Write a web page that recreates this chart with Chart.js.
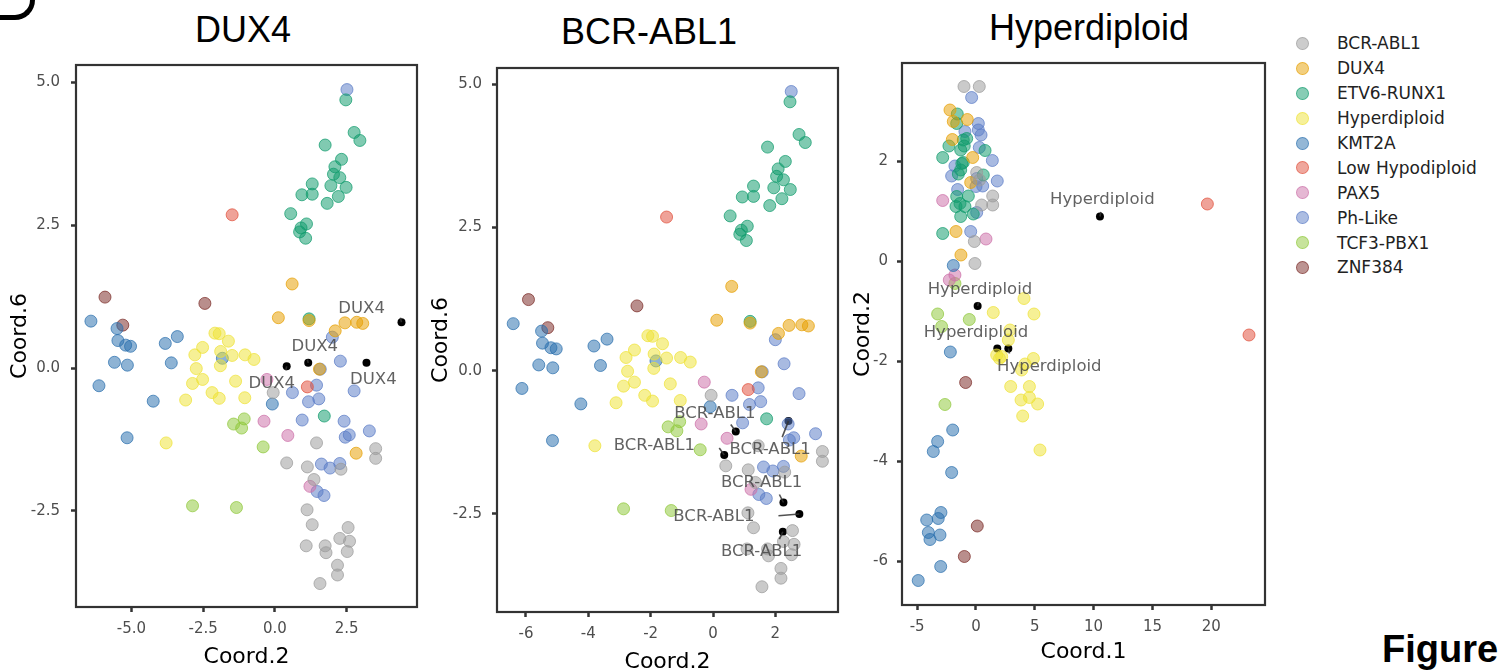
<!DOCTYPE html>
<html>
<head>
<meta charset="utf-8">
<script src="https://cdn.jsdelivr.net/npm/chart.js@4.4.1/dist/chart.umd.min.js"></script>
<style>
  body { margin:0; width:1499px; height:670px; overflow:hidden; background:#fff; position:relative; font-family:'DejaVu Sans', sans-serif; }
  canvas { position:absolute; top:0; }
  .title { position:absolute; font-family:'Liberation Sans', sans-serif; font-size:36px; line-height:36px; color:#000; text-align:center; width:300px; }
  #legend { position:absolute; left:1290px; top:31px; }
  .row { height:24.9px; display:flex; align-items:center; font-size:17px; color:#222; white-space:nowrap; }
  .dot { width:13px; height:13px; border-radius:50%; margin-left:6px; margin-right:28px; box-sizing:border-box; }
  #corner { position:absolute; left:-20px; top:-30px; width:50px; height:45px; border-right:5px solid #000; border-bottom:5px solid #000; border-bottom-right-radius:20px; }
  #fig { position:absolute; left:1382px; top:630px; font-family:'Liberation Sans', sans-serif; font-weight:bold; font-size:38px; line-height:38px; color:#000; white-space:nowrap; }
</style>
</head>
<body>
<div id="corner"></div>
<div class="title" style="left:93px; top:12px;">DUX4</div>
<div class="title" style="left:499px; top:14px;">BCR-ABL1</div>
<div class="title" style="left:939px; top:10px;">Hyperdiploid</div>
<canvas id="p1" width="430" height="690" style="left:0px"></canvas>
<canvas id="p2" width="435" height="690" style="left:425px"></canvas>
<canvas id="p3" width="430" height="690" style="left:850px"></canvas>
<div id="legend"></div>
<div id="fig">Figure</div>
<script>
// groups, in legend order
const groups = ['BCR-ABL1', 'DUX4', 'ETV6-RUNX1', 'Hyperdiploid', 'KMT2A', 'Low Hypodiploid', 'PAX5', 'Ph-Like', 'TCF3-PBX1', 'ZNF384'];
const groupColors = ['#9a9a9a', '#e69f00', '#0f9b6c', '#eee236', '#2a6fad', '#e0503c', '#cc6fa8', '#5a7cc6', '#8fc83a', '#7a2a26'];

// Coord.2 (x) / Coord.6 (y) - used by the DUX4 and BCR-ABL1 panels
const c26Bcr = [[-0.06,-0.43],[1.45,-1.31],[3.51,-1.41],[3.51,-1.58],[0.41,-1.66],[1.13,-1.73],[2.30,-1.77],[1.36,-1.95],[1.12,-2.48],[1.30,-2.74],[2.55,-2.79],[2.26,-2.98],[2.60,-3.03],[1.09,-3.11],[1.75,-3.11],[1.78,-3.23],[2.52,-3.21],[2.18,-3.45],[2.18,-3.62],[1.57,-3.77]];
const c26Dux4 = [[0.60,1.47],[0.12,0.88],[1.19,0.83],[2.44,0.79],[2.85,0.80],[3.06,0.78],[2.10,0.65],[1.55,-0.02],[2.83,-1.49]];
const c26Etv6 = [[2.47,4.69],[2.76,4.12],[2.96,3.98],[1.75,3.90],[2.32,3.65],[2.09,3.52],[2.04,3.39],[2.26,3.33],[1.30,3.22],[1.95,3.19],[2.48,3.16],[0.94,3.03],[1.30,3.04],[2.21,3.00],[1.82,2.88],[0.55,2.70],[1.10,2.52],[0.91,2.45],[0.86,2.38],[1.07,2.27],[1.19,0.86],[1.72,-0.84]];
const c26Hyper = [[-2.09,0.61],[-1.94,0.60],[-1.62,0.47],[-2.52,0.36],[-2.79,0.23],[-1.89,0.29],[-1.49,0.22],[-1.04,0.23],[-0.73,0.15],[-2.74,-0.01],[-1.90,0.04],[-2.52,-0.20],[-2.87,-0.27],[-1.37,-0.23],[-2.19,-0.43],[-1.94,-0.53],[-3.11,-0.56],[-1.05,-0.52],[-3.79,-1.31]];
const c26Kmt2a = [[-6.41,0.82],[-5.50,0.69],[-5.47,0.48],[-5.20,0.40],[-5.03,0.38],[-3.82,0.43],[-3.40,0.55],[-5.59,0.10],[-5.14,0.05],[-3.61,0.09],[-6.13,-0.31],[-4.24,-0.58],[-5.15,-1.22],[-1.83,0.17],[-0.09,-0.63]];
const c26LowHypo = [[-1.49,2.68],[1.13,-0.33]];
const c26Pax5 = [[-0.28,-0.20],[-0.38,-0.93],[0.45,-1.18],[1.22,-2.07]];
const c26PhLike = [[2.51,4.87],[2.00,0.54],[1.58,-0.02],[2.28,0.12],[1.45,-0.30],[0.61,-0.43],[2.76,-0.40],[1.17,-0.59],[1.53,-0.54],[0.95,-0.91],[2.41,-0.93],[3.29,-1.10],[2.59,-1.17],[2.45,-1.21],[1.62,-1.68],[1.92,-1.75],[2.26,-1.67],[1.47,-2.16],[1.71,-2.23]];
const c26Tcf3 = [[-1.44,-0.98],[-1.07,-0.89],[-1.16,-1.05],[-0.41,-1.38],[-2.87,-2.41],[-1.34,-2.44]];
const c26Znf384 = [[-5.92,1.24],[-2.44,1.13],[-5.30,0.75]];
const coord26 = [c26Bcr, c26Dux4, c26Etv6, c26Hyper, c26Kmt2a, c26LowHypo, c26Pax5, c26PhLike, c26Tcf3, c26Znf384];

// Coord.1 (x) / Coord.2 (y) - Hyperdiploid panel
const c12Bcr = [[-1.02,3.49],[0.28,3.49],[0.06,1.77],[1.42,1.30],[0.48,1.12],[1.42,1.12],[-0.14,0.39],[-0.09,-0.05],[0.30,1.62]];
const c12Dux4 = [[-2.21,3.02],[-0.74,2.83],[-1.93,2.79],[-2.01,2.43],[-0.28,2.07],[-0.45,1.57],[-1.70,0.59],[-1.28,0.12]];
const c12Etv6 = [[-1.59,2.94],[-1.64,2.75],[-0.79,2.45],[-1.08,2.42],[-2.30,2.30],[-1.30,2.22],[0.77,2.21],[-2.83,2.07],[-1.08,1.97],[-1.30,1.82],[-1.50,1.74],[0.62,1.72],[-1.64,1.29],[-0.65,1.30],[-1.36,1.15],[-0.94,1.09],[-1.70,1.09],[-0.23,0.94],[-1.30,0.89],[-2.83,0.55],[-1.20,1.95],[-1.00,2.30]];
const c12Hyper = [[4.08,-0.75],[1.47,-1.03],[4.93,-1.06],[2.89,-1.38],[2.75,-1.58],[1.76,-1.88],[2.18,-1.91],[2.00,-1.95],[4.88,-1.95],[4.17,-2.06],[3.88,-2.18],[2.95,-2.51],[4.54,-2.51],[3.83,-2.78],[4.54,-2.73],[5.24,-2.86],[3.97,-3.10],[5.44,-3.78]];
const c12Kmt2a = [[-1.93,-0.09],[-2.18,-1.82],[-1.98,-3.38],[-3.26,-3.61],[-3.63,-3.81],[-2.07,-4.23],[-2.98,-5.03],[-3.21,-5.15],[-4.19,-5.18],[-4.05,-5.43],[-3.06,-5.48],[-3.91,-5.57],[-3.00,-6.11],[-4.91,-6.39]];
const c12LowHypo = [[19.67,1.14],[23.21,-1.48]];
const c12Pax5 = [[-2.83,1.21],[0.85,0.44],[-1.79,-0.28],[-2.27,-0.38]];
const c12PhLike = [[-0.37,3.27],[0.20,2.75],[0.20,2.62],[-0.94,2.59],[0.43,2.52],[0.28,2.27],[1.39,2.01],[-1.79,1.90],[-2.07,1.70],[0.06,1.65],[1.81,1.60],[0.57,1.50],[0.00,1.49],[-1.56,1.43],[0.06,0.97],[-0.45,0.59]];
const c12Tcf3 = [[-1.79,-0.45],[-3.26,-1.06],[-0.57,-1.17],[-2.92,-1.31],[-2.64,-2.87]];
const c12Znf384 = [[-0.88,-2.43],[0.11,-5.30],[-0.99,-5.91]];
const coord12 = [c12Bcr, c12Dux4, c12Etv6, c12Hyper, c12Kmt2a, c12LowHypo, c12Pax5, c12PhLike, c12Tcf3, c12Znf384];

// highlighted samples (black), their label centres and leader ends
const dux4Marks = [[4.41,0.80],[1.16,0.09],[0.41,0.03],[3.19,0.09]];
const dux4Text  = [[3.02,1.04],[1.39,0.37],[-0.11,-0.27],[3.43,-0.21]];
const dux4Lead  = [[4.37,0.88],[1.13,0.15],[0.38,-0.04],[3.19,0.09]];

const bcrMarks = [[2.42,-0.88],[0.73,-1.06],[0.36,-1.47],[2.26,-2.30],[2.77,-2.50],[2.24,-2.81]];
const bcrText  = [[1.83,-1.38],[0.06,-0.75],[-1.88,-1.31],[1.56,-1.96],[0.03,-2.54],[1.56,-3.15]];
const bcrLead  = [[2.22,-1.16],[0.57,-0.94],[0.20,-1.35],[2.13,-2.16],[2.10,-2.53],[2.13,-2.94]];

const hyperMarks = [[10.54,0.89],[0.14,-0.90],[1.81,-1.75],[2.75,-1.75]];
const hyperText  = [[10.74,1.22],[0.34,-0.58],[0.00,-1.43],[6.23,-2.11]];
const hyperLead  = [[10.62,0.98],[0.22,-0.82],[1.81,-1.75],[2.85,-1.85]];

// ticks
const p1XTicks = [-5, -2.5, 0, 2.5];
const p1XLabels = ['-5.0', '-2.5', '0.0', '2.5'];
const p12YTicks = [-2.5, 0, 2.5, 5];
const p12YLabels = ['-2.5', '0.0', '2.5', '5.0'];
const p2XTicks = [-6, -4, -2, 0, 2];
const p3XTicks = [-5, 0, 5, 10, 15, 20];
const p3YTicks = [-6, -4, -2, 0, 2];

function rgba(hex, a) {
  const n = parseInt(hex.slice(1), 16);
  return `rgba(${(n >> 16) & 255}, ${(n >> 8) & 255}, ${n & 255}, ${a})`;
}

function buildDatasets(sets, marks) {
  const ds = sets.map((pts, i) => ({
    label: groups[i],
    data: pts.map(p => ({ x: p[0], y: p[1] })),
    backgroundColor: rgba(groupColors[i], 0.53),
    borderColor: rgba(groupColors[i], 0.72),
    borderWidth: 1,
    pointRadius: 6
  }));
  ds.push({
    label: 'sample',
    data: marks.map(p => ({ x: p[0], y: p[1] })),
    backgroundColor: '#000',
    borderColor: '#000',
    borderWidth: 0,
    pointRadius: 4
  });
  return ds;
}

const framePlugin = {
  id: 'frame',
  afterDraw(chart) {
    const { ctx, chartArea: a } = chart;
    ctx.save();
    ctx.strokeStyle = '#333';
    ctx.lineWidth = 2.2;
    ctx.strokeRect(a.left, a.top, a.right - a.left, a.bottom - a.top);
    ctx.restore();
  }
};

const labelPlugin = {
  id: 'sampleLabels',
  afterDatasetsDraw(chart, args, opts) {
    const { ctx } = chart;
    const x = chart.scales.x, y = chart.scales.y;
    ctx.save();
    ctx.font = '16.5px "DejaVu Sans"';
    ctx.textAlign = 'center';
    ctx.textBaseline = 'middle';
    opts.marks.forEach((m, i) => {
      const px = x.getPixelForValue(m[0]), py = y.getPixelForValue(m[1]);
      const l = opts.lead[i];
      ctx.strokeStyle = 'rgba(50,50,50,0.85)';
      ctx.lineWidth = 1.6;
      ctx.beginPath();
      ctx.moveTo(px, py);
      ctx.lineTo(x.getPixelForValue(l[0]), y.getPixelForValue(l[1]));
      ctx.stroke();
      const t = opts.text[i];
      ctx.fillStyle = 'rgba(70,70,70,0.85)';
      ctx.fillText(opts.label, x.getPixelForValue(t[0]), y.getPixelForValue(t[1]));
    });
    ctx.restore();
  }
};

function axis(cfg) {
  return {
    type: 'linear',
    min: cfg.min,
    max: cfg.max,
    afterBuildTicks: s => { s.ticks = cfg.ticks.map(v => ({ value: v })); },
    afterFit: s => { if (cfg.width) s.width = cfg.width; if (cfg.height) s.height = cfg.height; },
    ticks: {
      autoSkip: false,
      maxRotation: 0,
      padding: cfg.tickPad,
      color: '#4d4d4d',
      font: { family: 'DejaVu Sans', size: 15 },
      callback: (v, i) => cfg.labels ? cfg.labels[i] : String(cfg.ticks[i])
    },
    grid: { drawOnChartArea: false, drawTicks: true, tickLength: 5, tickWidth: 2.5, tickColor: '#333' },
    border: { display: false },
    title: {
      display: true,
      text: cfg.title,
      color: '#000',
      font: { family: 'DejaVu Sans', size: 22 },
      padding: cfg.titlePad
    }
  };
}

function makeChart(id, sets, marks, text, lead, label, xCfg, yCfg, pad) {
  return new Chart(document.getElementById(id), {
    type: 'scatter',
    data: { datasets: buildDatasets(sets, marks) },
    options: {
      responsive: false,
      animation: false,
      events: [],
      layout: { padding: pad },
      scales: { x: axis(xCfg), y: axis(yCfg) },
      plugins: {
        legend: { display: false },
        tooltip: { enabled: false },
        sampleLabels: { marks: marks, text: text, lead: lead, label: label }
      }
    },
    plugins: [framePlugin, labelPlugin]
  });
}

makeChart('p1', coord26, dux4Marks, dux4Text, dux4Lead, 'DUX4',
  { min: -6.93, max: 4.95, ticks: p1XTicks, labels: p1XLabels, title: 'Coord.2', height: 83, tickPad: 8, titlePad: { bottom: 20 } },
  { min: -4.18, max: 5.30, ticks: p12YTicks, labels: p12YLabels, title: 'Coord.6', width: 76, tickPad: 11, titlePad: { top: 7 } },
  { left: 0, right: 13, top: 65, bottom: 0 });

makeChart('p2', coord26, bcrMarks, bcrText, bcrLead, 'BCR-ABL1',
  { min: -6.93, max: 4.01, ticks: p2XTicks, title: 'Coord.2', height: 78, tickPad: 8, titlePad: { bottom: 15 } },
  { min: -4.21, max: 5.28, ticks: p12YTicks, labels: p12YLabels, title: 'Coord.6', width: 72, tickPad: 10, titlePad: { top: 3 } },
  { left: 0, right: 22, top: 68, bottom: 0 });

makeChart('p3', coord12, hyperMarks, hyperText, hyperLead, 'Hyperdiploid',
  { min: -6.29, max: 24.57, ticks: p3XTicks, title: 'Coord.1', height: 85, tickPad: 8, titlePad: { bottom: 25 } },
  { min: -6.88, max: 3.96, ticks: p3YTicks, title: 'Coord.2', width: 52, tickPad: 9, titlePad: { top: 0 } },
  { left: 0, right: 15, top: 63, bottom: 0 });

// legend
const legend = document.getElementById('legend');
groups.forEach((g, i) => {
  const row = document.createElement('div');
  row.className = 'row';
  const dot = document.createElement('div');
  dot.className = 'dot';
  dot.style.background = rgba(groupColors[i], 0.5);
  dot.style.border = '1px solid ' + rgba(groupColors[i], 0.6);
  row.appendChild(dot);
  row.appendChild(document.createTextNode(g));
  legend.appendChild(row);
});
</script>
</body>
</html>
